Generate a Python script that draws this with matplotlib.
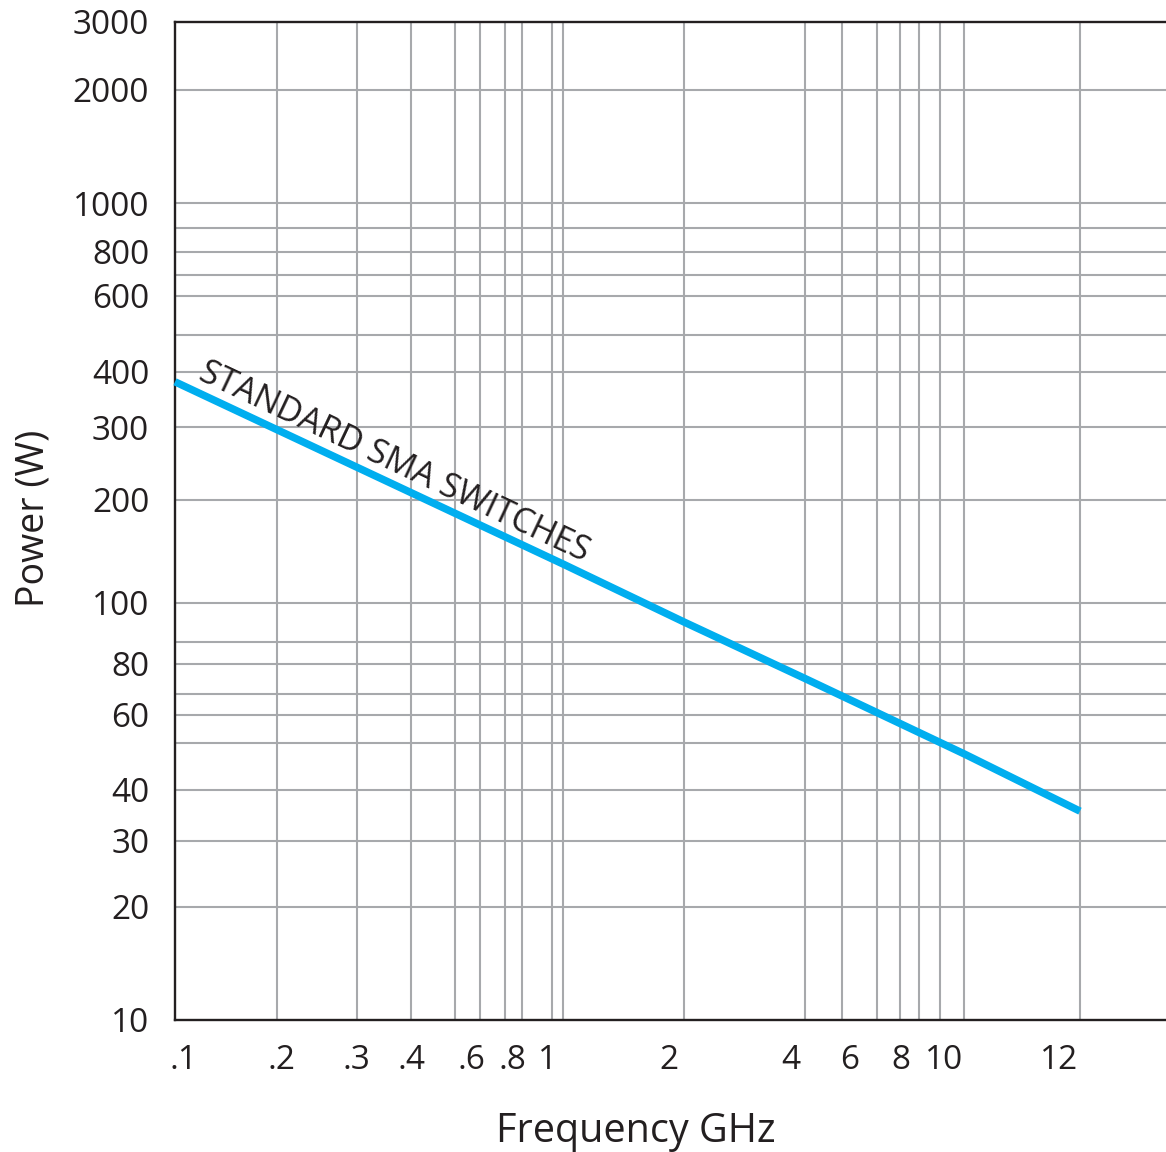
import numpy as np
import matplotlib
matplotlib.use("Agg")
import matplotlib.pyplot as plt
from matplotlib.ticker import FixedLocator, FixedFormatter, NullFormatter
from matplotlib.transforms import ScaledTranslation

plt.rcParams['font.family'] = ['Open Sans', 'DejaVu Sans']

# power handling curve
freq_ghz = [0.1, 1, 2, 4, 10, 12]
power_w = [380, 130, 95, 75, 47.5, 35.5]
curve_label = 'STANDARD SMA SWITCHES'

# labelled ticks
x_tick_vals = [0.1, 0.2, 0.3, 0.4, 0.6, 0.8, 1, 2, 4, 6, 8, 10, 12]
x_tick_labels = ['.1', '.2', '.3', '.4', '.6', '.8', '1', '2', '4', '6', '8', '10', '12']
y_tick_vals = [10, 20, 30, 40, 60, 80, 100, 200, 300, 400, 600, 800, 1000, 2000, 3000]
y_tick_labels = [str(v) for v in y_tick_vals]

# the printed grid is not a true log grid, so the scale follows where each line sits (px)
x_grid = [0.1, 0.2, 0.3, 0.4, 0.5, 0.6, 0.7, 0.8, 0.9, 1, 2, 4, 5, 6, 7, 8, 9, 10, 12, 16]
x_grid_px = [175, 277, 357, 411, 455, 480, 505, 522, 552, 563, 684, 805, 842, 877, 900, 919, 940, 964, 1080, 1166]
y_grid = [10, 20, 30, 40, 50, 60, 70, 80, 90, 100, 200, 300, 400, 500, 600, 700, 800, 900, 1000, 2000, 3000]
y_grid_px = [1020, 907, 841, 790, 743, 715, 694, 664, 642, 603, 500, 427, 372, 335, 296, 275, 252, 228, 203, 90, 22]
# x labels are printed a little off their grid lines (px)
x_label_shift = [8, 5, -1, 0, -9, -10, -15, -15, -14, -27, -18, -20, -21]

ink = '#231F20'
grid_gray = '#A7A9AC'
cyan = '#00AEEF'


#piecewise log scale through the grid positions
def make_scale(vals, px, sign):
    lv = np.log10(vals)
    p = sign * np.asarray(px, float)

    def fwd(v):
        v = np.clip(np.asarray(v, float), 1e-9, None)
        return np.interp(np.log10(v), lv, p)

    def inv(t):
        return 10 ** np.interp(t, p, lv)
    return fwd, inv


W, H = 1166, 1152
fig = plt.figure(figsize=(W / 100, H / 100), dpi=100)
ax = fig.add_axes([175 / W, 1 - 1020 / H, (W - 175) / W, (1020 - 22) / H])

ax.set_xscale('function', functions=make_scale(x_grid, x_grid_px, 1))
ax.set_yscale('function', functions=make_scale(y_grid, y_grid_px, -1))
ax.set_xlim(x_grid[0], x_grid[-1])
ax.set_ylim(y_grid[0], y_grid[-1])

ax.plot(freq_ghz, power_w, color=cyan, lw=5.4, solid_capstyle='butt', zorder=3, clip_on=False)
ax.text(0.116, 386, curve_label, rotation=-25.3, rotation_mode='anchor',
        ha='left', va='baseline', fontsize=24.5, color=ink)

ax.xaxis.set_major_locator(FixedLocator(x_tick_vals))
ax.xaxis.set_major_formatter(FixedFormatter(x_tick_labels))
ax.xaxis.set_minor_locator(FixedLocator(x_grid[1:-1]))
ax.xaxis.set_minor_formatter(NullFormatter())
ax.yaxis.set_major_locator(FixedLocator(y_tick_vals))
ax.yaxis.set_major_formatter(FixedFormatter(y_tick_labels))
ax.yaxis.set_minor_locator(FixedLocator(y_grid[1:-1]))
ax.yaxis.set_minor_formatter(NullFormatter())
ax.xaxis.remove_overlapping_locs = False
ax.yaxis.remove_overlapping_locs = False

ax.grid(which='minor', color=grid_gray, lw=1.5)
ax.tick_params(which='both', length=0, labelcolor=ink, labelsize=24)
ax.tick_params(axis='y', pad=18.5)
ax.tick_params(axis='x', pad=17)

for side in ['left', 'top', 'bottom']:
    ax.spines[side].set_color(ink)
    ax.spines[side].set_linewidth(1.7)
ax.spines['right'].set_visible(False)

ax.set_xlabel('Frequency GHz', fontsize=28.5, color=ink, va='baseline')
ax.xaxis.set_label_coords(0.465, -0.122)
ax.set_ylabel('Power (W)', fontsize=27, color=ink, va='baseline')
ax.yaxis.set_label_coords(-0.133, 0.503)

for lab, dx in zip(ax.get_xticklabels(), x_label_shift):
    lab.set_transform(lab.get_transform() + ScaledTranslation(dx / 100, 0, fig.dpi_scale_trans))

fig.savefig('out.png', dpi=100)
